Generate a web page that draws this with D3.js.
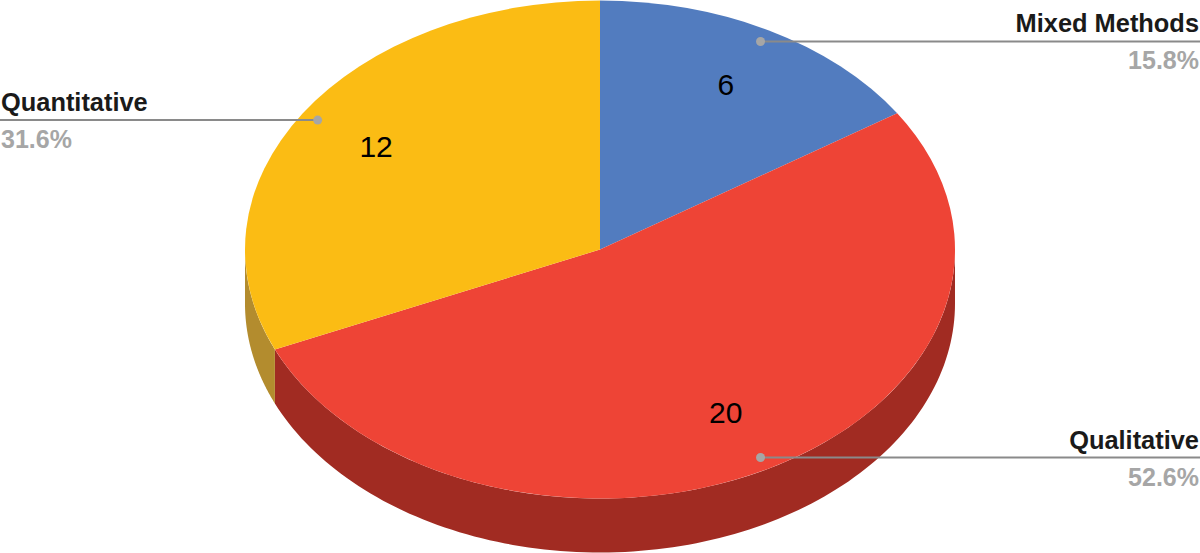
<!DOCTYPE html>
<html>
<head>
<meta charset="utf-8">
<script src="https://cdn.jsdelivr.net/npm/d3@7"></script>
<style>
html,body{margin:0;padding:0;background:#fff;overflow:hidden}
text{font-family:"Liberation Sans",Arial,sans-serif}
</style>
</head>
<body>
<svg id="chart" width="1200" height="553"></svg>
<script>
const categories = ["Mixed Methods", "Qualitative", "Quantitative"];
const values = [6, 20, 12];
const percentLabels = ["15.8%", "52.6%", "31.6%"];
const topColors = ["#527cbf", "#ee4436", "#fbbc14"];
const sideColors = ["#527cbf", "#a12b22", "#b38c2e"];
const labelSides = ["right", "right", "left"];

const W = 1200, H = 553;
const cx = 600, cy = 249.5, rx = 355, ry = 249, depth = 54;
const svg = d3.select("#chart");

const pie = d3.pie().value(d => d).sort(null);
const slices = pie(values);
const px = a => cx + rx * Math.sin(a);
const py = a => cy - ry * Math.cos(a);

// Extruded walls: only the front half of the ellipse is visible
const wall = d3.area().x(a => px(a)).y0(a => py(a)).y1(a => py(a) + depth);
slices.forEach((s, i) => {
  const a0 = Math.max(s.startAngle, Math.PI / 2);
  const a1 = Math.min(s.endAngle, 3 * Math.PI / 2);
  if (a1 <= a0) return;
  const n = 120;
  const angles = d3.range(n + 1).map(k => a0 + (a1 - a0) * k / n);
  svg.append("path").attr("d", wall(angles)).attr("fill", sideColors[i]);
});

// Top face: a circular pie squashed into an ellipse
const arc = d3.arc().innerRadius(0).outerRadius(rx);
svg.append("g")
  .attr("transform", `translate(${cx},${cy}) scale(1,${ry / rx})`)
  .selectAll("path").data(slices).join("path")
  .attr("d", arc)
  .attr("fill", (d, i) => topColors[i]);

// Values inside the slices
const mid = s => (s.startAngle + s.endAngle) / 2;
const at = (s, f) => [cx + f * rx * Math.sin(mid(s)), cy - f * ry * Math.cos(mid(s))];
svg.append("g").selectAll("text").data(slices).join("text")
  .attr("x", d => at(d, 0.75)[0] - 1)
  .attr("y", d => at(d, 0.75)[1] + 9.5)
  .attr("text-anchor", "middle")
  .attr("font-size", 30)
  .attr("fill", "#000")
  .text(d => d.data);

// Callouts
slices.forEach((s, i) => {
  const [dx, dy] = at(s, 0.95);
  const right = labelSides[i] === "right";
  const edge = right ? W : 0;
  const tx = right ? W - 1 : 1;
  const anchor = right ? "end" : "start";
  svg.append("line").attr("x1", dx).attr("y1", dy).attr("x2", edge).attr("y2", dy)
    .attr("stroke", "#8a8a8a").attr("stroke-width", 2);
  svg.append("circle").attr("cx", dx).attr("cy", dy).attr("r", 4.5).attr("fill", "#a6a6a6");
  svg.append("text").attr("x", tx).attr("y", dy - 9).attr("text-anchor", anchor)
    .attr("font-size", 25.4).attr("font-weight", "bold").attr("fill", "#1a1a1a").text(categories[i]);
  svg.append("text").attr("x", tx).attr("y", dy + 28).attr("text-anchor", anchor)
    .attr("font-size", 25).attr("font-weight", "bold").attr("fill", "#a6a6a6").text(percentLabels[i]);
});
</script>
</body>
</html>
